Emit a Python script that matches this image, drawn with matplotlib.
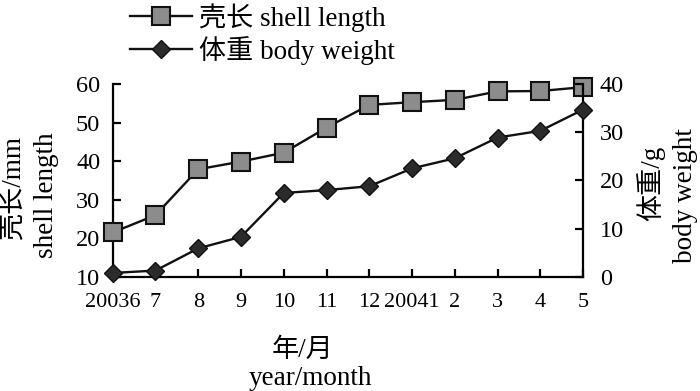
import matplotlib
matplotlib.use("Agg")
from matplotlib import pyplot as plt
import numpy as np

plt.rcParams['font.family'] = ['Liberation Serif', 'Noto Sans CJK SC']

months = ['20036', '7', '8', '9', '10', '11', '12', '20041', '2', '3', '4', '5']
shellLength = [21.5, 26.0, 37.9, 39.9, 42.2, 48.7, 54.6, 55.3, 55.9, 58.1, 58.2, 59.2]
bodyWeight = [0.8, 1.3, 5.9, 8.3, 17.4, 18.0, 18.8, 22.5, 24.6, 28.9, 30.3, 34.7]

fig = plt.figure(figsize=(7.0, 3.91), dpi=100)
ax = fig.add_axes([0.161, 0.292, 0.672, 0.493])
ax2 = ax.twinx()

x = np.arange(len(months))
l1, = ax.plot(x, shellLength, color='#111111', lw=1.7, marker='s', ms=12.5,
              mfc='#8c8c8c', mec='#111111', mew=1.5, clip_on=False, zorder=5,
              label='壳长 shell length')
l2, = ax2.plot(x, bodyWeight, color='#111111', lw=1.7, marker='D', ms=9,
               mfc='#2b2b2b', mec='#111111', mew=1.0, clip_on=False, zorder=5,
               label='体重 body weight')

ax.set_xlim(0, 11)
ax.set_ylim(10, 60)
ax2.set_ylim(0, 40)
ax.set_yticks([10, 20, 30, 40, 50, 60])
ax2.set_yticks([0, 10, 20, 30, 40])
ax.set_xticks(x)
ax.set_xticklabels(months)

for a in (ax, ax2):
    a.spines['top'].set_visible(False)
    for s in a.spines.values():
        s.set_linewidth(1.6)
ax.spines['right'].set_visible(False)
ax2.spines['left'].set_visible(False)
ax2.spines['bottom'].set_visible(False)

ax.tick_params(axis='y', direction='in', length=6, width=1.6, labelsize=17.5, pad=9)
ax.tick_params(axis='x', direction='in', length=6, width=1.6, labelsize=16, pad=12)
ax2.tick_params(axis='y', direction='in', length=6, width=1.6, labelsize=17.5, pad=12)

fs = 19.5
fig.text(0.020, 0.52, '壳长/mm', rotation=90, ha='center', va='center', fontsize=fs)
fig.text(0.066, 0.50, 'shell length', rotation=90, ha='center', va='center', fontsize=fs)
fig.text(0.930, 0.53, '体重/g', rotation=90, ha='center', va='center', fontsize=fs)
fig.text(0.980, 0.50, 'body weight', rotation=90, ha='center', va='center', fontsize=fs)

fig.text(0.432, 0.105, '年/月', ha='center', va='center', fontsize=fs)
fig.text(0.443, 0.033, 'year/month', ha='center', va='center', fontsize=fs)

fig.legend(handles=[l1, l2], loc='upper left', bbox_to_anchor=(0.170, 1.020),
           frameon=False, fontsize=fs, handlelength=2.3, labelspacing=0.15,
           handletextpad=0.25, borderaxespad=0)

fig.savefig('out.png', dpi=100)
